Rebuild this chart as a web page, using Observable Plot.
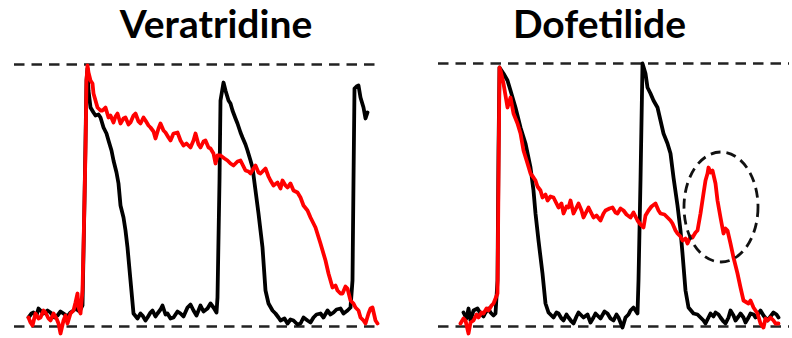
<!DOCTYPE html>
<html>
<head>
<meta charset="utf-8">
<script src="https://cdn.jsdelivr.net/npm/d3@7"></script>
<script src="https://cdn.jsdelivr.net/npm/@observablehq/plot@0.6"></script>
<style>
  html, body { margin: 0; padding: 0; background: #fff; }
  #wrap { width: 792px; height: 338px; display: flex; flex-direction: row; }
  #wrap svg { display: block; }
</style>
</head>
<body>
<div id="wrap"></div>
<script>
// Panel titles
const titles = ["Veratridine", "Dofetilide"];

// Time (a.u.) and amplitude (a.u.; 0 = bottom dashed line, top dashed line = max)
const verBlack = [
  [14,9],[17,13],[19,14],[22,11],[24,18],[27,15],[29,13],[33,16],[36,14],[40,9],[43,11],[46,15],[49,13],[53,10],[56,14],[59,16],[61,18],[65,15],[68,21],
  [70,126],[72,246],[73,258],[74,236],[76,219],[79,214],[81,211],[84,212],[86,209],[89,199],[92,193],[94,186],[97,176],[99,166],[102,154],[104,143],[106,121],[109,109],[111,96],[113,79],[116,46],[119,13],
  [123,8],[126,13],[128,11],[131,6],[133,9],[136,14],[138,16],[141,10],[143,13],[146,17],[148,21],[151,12],[153,13],[156,8],[159,9],[163,15],[166,13],[169,10],[173,19],[176,22],[179,16],[182,11],[186,21],[189,15],[193,18],[196,23],[199,19],[202,14],
  [203,29],[205,146],[206,226],[209,244],[211,236],[214,226],[216,223],[218,216],[221,208],[223,203],[226,194],[228,189],[231,182],[233,176],[236,166],[238,159],[241,136],[244,113],[246,96],[248,79],[251,36],[254,23],[258,16],
  [261,13],[264,9],[266,6],[270,8],[273,3],[276,7],[279,6],[283,2],[286,3],[289,9],[293,6],[296,4],[299,9],[302,12],[306,13],[309,9],[313,16],[316,12],[319,14],[322,17],[326,18],[329,13],[333,16],[336,19],
  [338,46],[339,146],[340,238],[342,240],[344,241],[346,229],[349,219],[351,208],[353,214]
];

const verRed = [
  [14,9],[16,4],[18,1],[21,13],[24,8],[26,9],[29,16],[31,14],[34,8],[36,6],[39,13],[42,8],[44,3],[46,-7],[49,6],[51,11],[53,3],[56,13],[59,16],[61,24],[63,33],[64,19],[66,13],[68,36],
  [69,79],[71,176],[72,246],[73,261],[74,254],[76,246],[78,243],[79,233],[81,226],[83,219],[86,216],[88,216],[91,219],[94,209],[96,211],[99,204],[101,210],[103,213],[106,203],[109,208],[111,209],[114,202],[116,204],[119,211],[121,213],[124,205],[126,203],[129,209],[131,206],[134,201],[136,199],[139,195],[141,188],[144,198],[146,203],[149,196],[151,194],[154,189],[156,186],[159,193],[163,194],[166,186],[169,181],[172,183],[176,179],[179,186],[181,193],[184,182],[186,179],[189,185],[191,186],[194,179],[196,178],[199,173],[201,163],[203,171],[206,171],[210,168],[213,166],[216,163],[219,161],[223,165],[226,166],[229,160],[231,156],[234,155],[236,153],[239,158],[241,161],[244,154],[246,153],[249,156],[251,158],[254,150],[256,146],[259,141],[263,144],[266,138],[268,146],[271,141],[273,139],[276,143],[279,136],[283,134],[286,129],[289,121],[293,116],[296,109],[301,99],[306,83],[311,66],[314,53],[318,39],[321,41],[323,36],[326,33],[328,33],[331,40],[333,38],[336,26],[339,23],[341,19],[344,16],[346,9],[349,6],[351,3],[354,13],[356,18],[358,19],[361,6],[363,3]
];

const dofBlack = [
  [25,14],[28,8],[30,18],[32,6],[35,16],[39,18],[42,13],[45,10],[47,14],[50,18],[52,14],[55,11],[57,13],
  [59,46],[60,176],[61,259],[65,253],[69,246],[72,236],[77,219],[82,199],[87,183],[92,159],[95,136],[97,113],[100,86],[104,53],[107,23],[110,14],
  [115,9],[118,14],[120,13],[123,8],[125,6],[128,12],[130,9],[133,5],[135,3],[138,10],[140,14],[143,11],[145,9],[149,12],[152,4],[155,9],[157,13],[160,10],[162,8],[166,15],[169,13],[172,8],[175,6],[178,12],[180,9],[184,-1],[187,9],[190,12],[192,16],[195,19],[199,13],
  [200,46],[202,146],[204,263],[207,253],[209,239],[212,233],[215,226],[219,219],[222,206],[225,193],[229,183],[232,173],[235,149],[239,121],[242,96],[244,73],[247,36],[250,19],[255,13],
  [259,12],[262,9],[265,6],[267,3],[270,9],[272,13],[275,10],[277,14],[280,12],[282,9],[285,5],[287,3],[290,9],[292,16],[295,11],[297,6],[300,10],[302,13],[305,9],[307,4],[310,9],[312,13],[315,12],[317,9],[320,13],[322,16],[325,11],[329,6],[332,10],[335,14],[338,12],[340,9]
];

const dofRed = [
  [22,3],[25,8],[27,6],[30,-7],[32,4],[35,6],[38,12],[40,9],[43,14],[45,13],[48,18],[50,16],[53,21],[55,23],[59,33],
  [60,146],[61,259],[62,256],[65,243],[67,231],[69,219],[72,229],[75,213],[79,203],[82,193],[85,176],[89,163],[92,153],[95,149],[97,146],[99,140],[102,136],[104,129],[107,132],[109,126],[112,130],[115,129],[118,123],[120,119],[123,123],[125,113],[128,120],[130,119],[132,126],[135,113],[138,119],[140,123],[143,116],[145,109],[148,115],[150,119],[153,113],[155,109],[158,111],[162,106],[165,113],[167,116],[171,118],[174,119],[177,114],[179,113],[182,118],[185,116],[188,112],[192,109],[195,114],[199,106],[202,102],[205,99],[207,111],[210,116],[213,120],[217,123],[220,116],[222,113],[226,112],[229,109],[232,106],[234,103],[237,96],[239,93],[242,90],[244,86],[247,88],[249,83],[252,90],[254,89],[257,94],[259,96],
  [262,113],[265,133],[267,146],[269,153],[270,159],[272,154],[274,156],[277,143],[279,126],[282,109],[285,93],[287,98],[289,96],[292,83],[295,69],[299,53],[302,39],[305,26],[310,23],[312,26],[315,19],[319,13],[322,3],[325,-1],[327,8],[329,6],[332,9],[335,6],[337,3],[340,3]
];

// Annotation ellipse around the early afterdepolarization (center and radii in data units)
const eadCircle = { t: 283, a: 119, rt: 37, ra: 55 };

const dashStyle = { stroke: "#222", strokeWidth: 2.6, strokeDasharray: "10.5,7" };

function panel(opts) {
  const marks = [
    Plot.ruleY([0, opts.yMax], dashStyle),
    Plot.line(opts.black, { x: d => d[0], y: d => d[1], stroke: "#000", strokeWidth: 3.8, strokeLinejoin: "round", curve: "linear" }),
    Plot.line(opts.red, { x: d => d[0], y: d => d[1], stroke: "#ff0000", strokeWidth: 3.8, strokeLinejoin: "round", curve: "linear" }),
    Plot.text([opts.title], { frameAnchor: "top", dx: opts.titleDx, dy: opts.titleDy, text: d => d, fontSize: 39, fontWeight: "bold", fill: "#000", lineAnchor: "middle", fontFamily: "Lato, 'Open Sans', sans-serif" })
  ];
  if (opts.ellipse) {
    const e = opts.ellipse;
    marks.push((index, scales) => {
      const cx = scales.x(e.t), cy = scales.y(e.a);
      const rx = Math.abs(scales.x(e.t + e.rt) - cx);
      const ry = Math.abs(scales.y(e.a + e.ra) - cy);
      const el = d3.create("svg:ellipse")
        .attr("cx", cx).attr("cy", cy).attr("rx", rx).attr("ry", ry)
        .attr("fill", "none").attr("stroke", "#111").attr("stroke-width", 2.8)
        .attr("stroke-dasharray", "10,6");
      return el.node();
    });
  }
  return Plot.plot({
    width: 396,
    height: 338,
    marginTop: opts.marginTop,
    marginBottom: 12,
    marginLeft: opts.marginLeft,
    marginRight: opts.marginRight,
    x: { domain: [0, opts.xMax], axis: null },
    y: { domain: [0, opts.yMax], axis: null },
    style: { background: "#fff", overflow: "visible" },
    marks
  });
}

const wrap = document.getElementById("wrap");
wrap.appendChild(panel({ black: verBlack, red: verRed, title: titles[0], xMax: 364, yMax: 262, marginLeft: 14, marginRight: 18, marginTop: 64, titleDx: 19.5, titleDy: -38.5 }));
wrap.appendChild(panel({ black: dofBlack, red: dofRed, title: titles[1], xMax: 351, yMax: 263, marginLeft: 42, marginRight: 3, marginTop: 63, titleDx: -14.5, titleDy: -37.5, ellipse: eadCircle }));
</script>
</body>
</html>
